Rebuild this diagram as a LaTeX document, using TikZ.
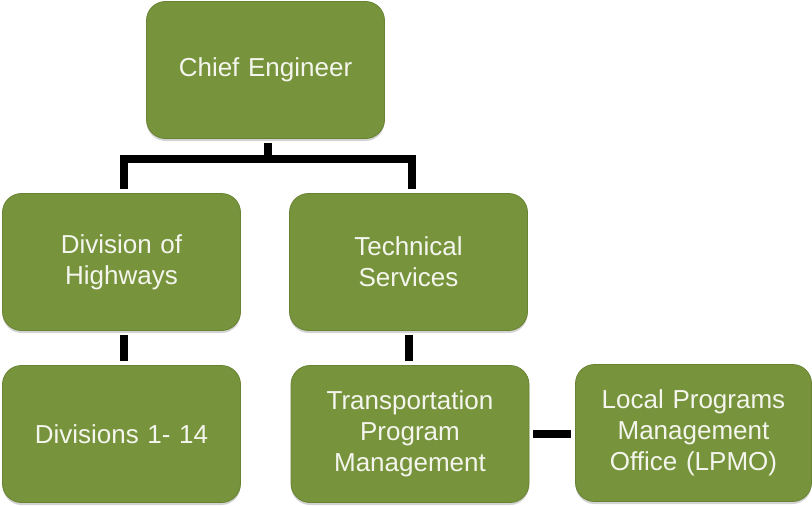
\documentclass[tikz,border=0pt]{standalone}
\usepackage{fontspec}
\setmainfont{Liberation Sans}
\usetikzlibrary{shadows}
\definecolor{boxgreen}{RGB}{119,147,60}
\definecolor{boxedge}{RGB}{104,130,50}
\definecolor{boxtext}{RGB}{244,246,238}
\tikzset{
  orgbox/.style={rectangle, rounded corners=19pt, fill=boxgreen, draw=boxedge, line width=0.8pt,
    minimum width=238pt, minimum height=137pt, text width=225pt, align=center,
    text=boxtext, font=\fontsize{26}{31}\selectfont, inner sep=0pt,
    drop shadow={shadow xshift=0pt, shadow yshift=-2.5pt, opacity=0.35}},
  conn/.style={line width=8pt, black},
  gap/.style={shorten <=4pt, shorten >=4pt}
}
\begin{document}
\begin{tikzpicture}[x=1pt,y=-1pt]
\useasboundingbox (0,0) rectangle (812,506);
\node[orgbox] (chief) at (265.5,70) {Chief Engineer};
\node[orgbox] (doh) at (121.5,262) {Division of\\Highways};
\node[orgbox] (ts) at (408.5,262) {Technical\\Services};
\node[orgbox] (div) at (121.5,434) {Divisions 1- 14};
\node[orgbox] (tpm) at (410,434) {Transportation\\Program\\Management};
\node[orgbox, minimum width=236pt] (lpmo) at (693.5,433) {Local Programs\\Management\\Office (LPMO)};
\coordinate (bar) at (268,159);
\draw[conn, shorten <=4pt] (chief.south -| bar) -- (bar);
\draw[conn, shorten >=4pt] (bar) -| ([xshift=2.5pt]doh.north);
\draw[conn, shorten >=4pt] (bar) -| ([xshift=3.5pt]ts.north);
\draw[conn, gap] ([xshift=2.5pt]doh.south) -- ([xshift=2.5pt]div.north);
\draw[conn, gap] (ts.south) -- (ts.south |- tpm.north);
\draw[conn, gap] (tpm.east) -- (lpmo.west |- tpm.east);
\end{tikzpicture}
\end{document}
